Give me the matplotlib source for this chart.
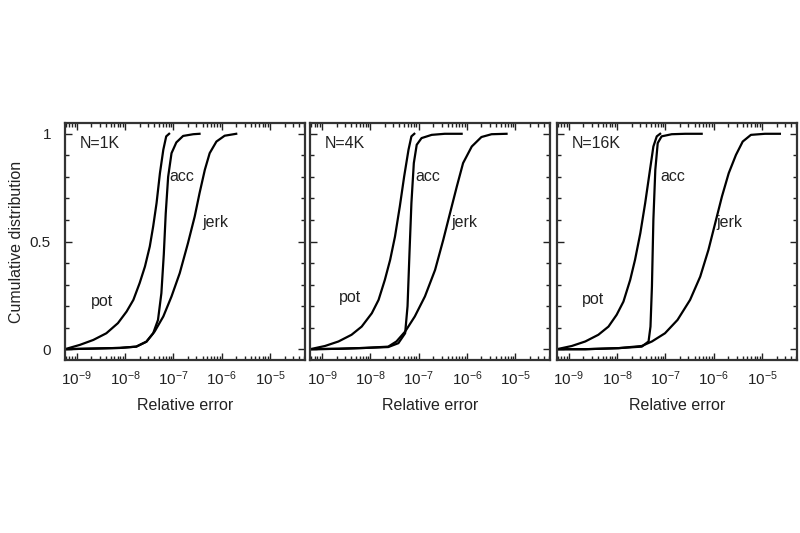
import numpy as np
import matplotlib
matplotlib.use('Agg')
import matplotlib.pyplot as plt
from matplotlib.ticker import LogLocator, MultipleLocator, FixedLocator, FixedFormatter

plt.rcParams['font.family'] = ['Liberation Sans', 'DejaVu Sans']
plt.rcParams['mathtext.default'] = 'regular'

# curves: log10(relative error) and cumulative fraction
panel_names = ['N=1K', 'N=4K', 'N=16K']

pot_logx = [
    [-9.25, -8.94, -8.66, -8.39, -8.15, -7.97, -7.83, -7.70, -7.59, -7.49, -7.42, -7.35, -7.28, -7.21, -7.15, -7.09],
    [-9.25, -8.94, -8.66, -8.39, -8.18, -7.97, -7.83, -7.70, -7.59, -7.49, -7.39, -7.30, -7.21, -7.15, -7.09],
    [-9.25, -8.94, -8.66, -8.39, -8.18, -8.01, -7.87, -7.73, -7.63, -7.52, -7.42, -7.32, -7.25, -7.18, -7.11],
]
pot_y = [
    [0.0, 0.020, 0.043, 0.074, 0.121, 0.175, 0.229, 0.307, 0.384, 0.477, 0.570, 0.678, 0.817, 0.926, 0.988, 1.0],
    [0.0, 0.015, 0.036, 0.067, 0.105, 0.167, 0.229, 0.322, 0.415, 0.523, 0.663, 0.802, 0.926, 0.988, 1.0],
    [0.0, 0.015, 0.036, 0.067, 0.105, 0.160, 0.221, 0.322, 0.415, 0.539, 0.678, 0.833, 0.941, 0.988, 1.0],
]

acc_logx = [
    [-9.25, -8.66, -8.11, -7.77, -7.56, -7.42, -7.32, -7.25, -7.20, -7.16, -7.11, -7.04, -6.94, -6.80, -6.59, -6.46],
    [-9.25, -8.66, -8.11, -7.63, -7.42, -7.28, -7.23, -7.19, -7.15, -7.10, -7.04, -6.94, -6.73, -6.46, -6.11],
    [-9.25, -8.66, -7.97, -7.49, -7.35, -7.31, -7.28, -7.25, -7.21, -7.16, -7.08, -6.87, -6.59, -6.25],
]
acc_y = [
    [0.0, 0.003, 0.006, 0.012, 0.035, 0.074, 0.136, 0.26, 0.44, 0.63, 0.80, 0.91, 0.96, 0.99, 0.998, 1.0],
    [0.0, 0.002, 0.006, 0.010, 0.028, 0.074, 0.20, 0.446, 0.678, 0.864, 0.949, 0.980, 0.995, 1.0, 1.0],
    [0.0, 0.0, 0.005, 0.012, 0.036, 0.105, 0.291, 0.601, 0.833, 0.957, 0.988, 0.998, 1.0, 1.0],
]

jerk_logx = [
    [-9.25, -8.66, -8.11, -7.77, -7.56, -7.39, -7.21, -7.04, -6.87, -6.70, -6.56, -6.46, -6.35, -6.25, -6.11, -5.94, -5.70],
    [-9.25, -8.66, -8.11, -7.63, -7.46, -7.28, -7.08, -6.87, -6.66, -6.49, -6.35, -6.21, -6.08, -5.90, -5.70, -5.49, -5.18],
    [-9.25, -8.66, -7.97, -7.49, -7.28, -7.01, -6.75, -6.49, -6.28, -6.11, -5.97, -5.83, -5.69, -5.54, -5.40, -5.23, -4.94, -4.63],
]
jerk_y = [
    [0.0, 0.003, 0.006, 0.012, 0.035, 0.082, 0.152, 0.245, 0.353, 0.492, 0.616, 0.724, 0.833, 0.910, 0.964, 0.991, 1.0],
    [0.0, 0.002, 0.006, 0.012, 0.036, 0.082, 0.152, 0.245, 0.368, 0.508, 0.632, 0.755, 0.864, 0.941, 0.985, 0.998, 1.0],
    [0.0, 0.0, 0.005, 0.015, 0.036, 0.074, 0.136, 0.229, 0.337, 0.461, 0.585, 0.709, 0.817, 0.902, 0.964, 0.995, 1.0, 1.0],
]

# label anchors (log10 x, y)
pot_lbl = [(-8.70, 0.22), (-8.66, 0.24), (-8.72, 0.23)]
acc_lbl = [(-7.09, 0.80), (-7.06, 0.80), (-7.10, 0.80)]
jerk_lbl = [(-6.40, 0.59), (-6.33, 0.59), (-5.95, 0.59)]

xlim = (10 ** -9.25, 10 ** -4.28)
xticks = [1e-9, 1e-8, 1e-7, 1e-6, 1e-5]
xticklabels = ['$10^{-9}$', '$10^{-8}$', '$10^{-7}$', '$10^{-6}$', '$10^{-5}$']

fig = plt.figure(figsize=(8, 5.33), dpi=100)
lefts = [0.081, 0.3875, 0.696]
fs = 11.5
ink = '#222222'

for i in range(3):
    ax = fig.add_axes([lefts[i], 0.3246, 0.3, 0.4446])
    ax.set_xscale('log')
    for lx, ly in [(pot_logx[i], pot_y[i]), (acc_logx[i], acc_y[i]), (jerk_logx[i], jerk_y[i])]:
        ax.plot(10 ** np.array(lx), ly, color='black', lw=1.6, solid_joinstyle='round')
    ax.set_xlim(*xlim)
    ax.set_ylim(-0.05, 1.05)
    ax.xaxis.set_major_locator(FixedLocator(xticks))
    ax.xaxis.set_major_formatter(FixedFormatter(xticklabels))
    ax.xaxis.set_minor_locator(LogLocator(base=10, subs=np.arange(2, 10)))
    ax.xaxis.set_minor_formatter(FixedFormatter([]))
    ax.set_yticks([0, 0.5, 1])
    ax.yaxis.set_minor_locator(MultipleLocator(0.1))
    if i == 0:
        ax.set_yticklabels(['0', '0.5', '1'])
        ax.set_ylabel('Cumulative distribution', fontsize=fs, color=ink, labelpad=4)
    else:
        ax.set_yticklabels([])
    ax.tick_params(which='both', direction='in', top=True, right=True, colors=ink,
                   labelsize=fs - 0.5, width=1)
    ax.tick_params(which='major', length=5)
    ax.tick_params(axis='y', which='major', pad=10)
    ax.tick_params(axis='x', which='major', pad=7)
    ax.tick_params(which='minor', length=3)
    for s in ax.spines.values():
        s.set_linewidth(1.6)
        s.set_color('#333333')
    ax.set_xlabel('Relative error', fontsize=fs, color=ink, labelpad=7)

    ax.text(10 ** -8.94, 0.955, panel_names[i], fontsize=fs, color=ink, va='center')
    ax.text(10 ** pot_lbl[i][0], pot_lbl[i][1], 'pot', fontsize=fs, color=ink, va='center')
    ax.text(10 ** acc_lbl[i][0], acc_lbl[i][1], 'acc', fontsize=fs, color=ink, va='center')
    ax.text(10 ** jerk_lbl[i][0], jerk_lbl[i][1], 'jerk', fontsize=fs, color=ink, va='center')

fig.savefig('out.png', dpi=100)
